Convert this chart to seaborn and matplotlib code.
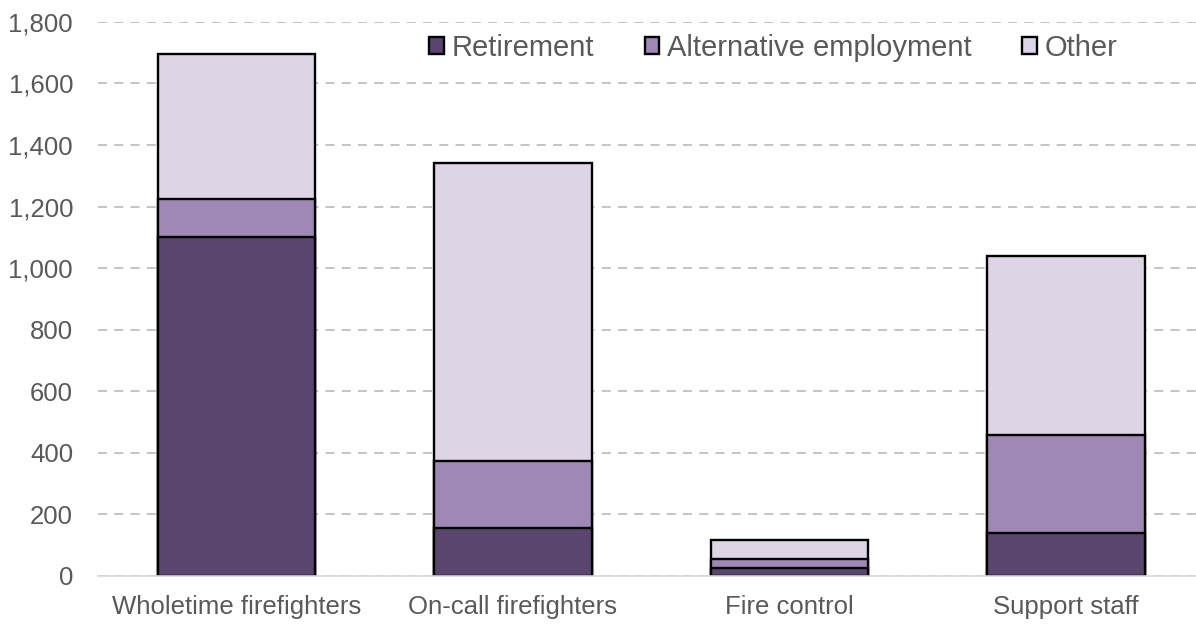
import matplotlib
matplotlib.use("Agg")
import matplotlib.pyplot as plt
import seaborn as sns
import numpy as np
from matplotlib.patches import Patch
from matplotlib.ticker import FuncFormatter

categories = ["Wholetime firefighters", "On-call firefighters", "Fire control", "Support staff"]
retirement = [1100, 155, 25, 140]
alternative = [125, 220, 30, 318]
other = [470, 965, 62, 580]
series_names = ["Retirement", "Alternative employment", "Other"]
colors = ["#5A456F", "#9F88B5", "#DDD4E6"]
yticks = [0, 200, 400, 600, 800, 1000, 1200, 1400, 1600, 1800]

sns.set_theme(style="white")
plt.rcParams['font.family'] = ['Liberation Sans', 'DejaVu Sans']

fig = plt.figure(figsize=(11.96, 6.26), dpi=100)
ax = fig.add_axes([0.082, 0.08, 0.918, 0.885])

r = np.array(retirement)
a = np.array(alternative)
o = np.array(other)
layers = [r + a + o, r + a, r]
for vals, col in zip(layers, colors[::-1]):
    sns.barplot(x=categories, y=vals, color=col, edgecolor="black", linewidth=1.7,
                width=0.57, ax=ax, saturation=1)

ax.set_xlim(-0.5, 3.47)
ax.set_ylim(0, 1800)
ax.set_yticks(yticks)
ax.yaxis.set_major_formatter(FuncFormatter(lambda v, p: f"{int(v):,}"))
ax.grid(axis="y", color="#BFBFBF", linestyle=(0, (5, 4)), linewidth=1.3)
ax.set_axisbelow(True)
for s in ["top", "right", "left"]:
    ax.spines[s].set_visible(False)
ax.spines["bottom"].set_color("#D9D9D9")
ax.spines["bottom"].set_linewidth(1.2)
ax.tick_params(axis="y", length=0, pad=18, labelsize=18.5, labelcolor="#595959")
ax.tick_params(axis="x", length=0, pad=14, labelsize=18.5, labelcolor="#595959")
ax.set_xlabel("")
ax.set_ylabel("")

handles = [Patch(facecolor=c, edgecolor="black", linewidth=1.7) for c in colors]
leg = ax.legend(handles, series_names, loc="center", bbox_to_anchor=(0.615, 0.953),
                ncol=3, frameon=False, fontsize=21, handlelength=0.5, handleheight=0.5,
                handletextpad=0.25, columnspacing=1.75, labelcolor="#595959")

fig.savefig("out.png", dpi=100)
